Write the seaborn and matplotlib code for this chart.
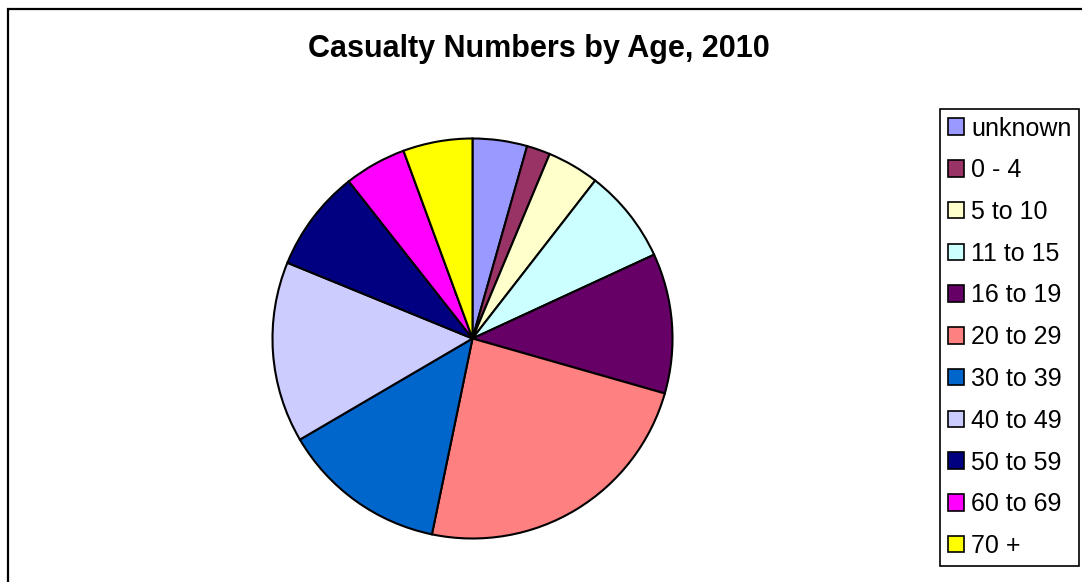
import matplotlib
matplotlib.use("Agg")
import matplotlib.pyplot as plt
import seaborn as sns
from matplotlib.patches import Patch, Rectangle

# share of casualties per age band
age_groups = ["unknown", "0 - 4", "5 to 10", "11 to 15", "16 to 19", "20 to 29",
              "30 to 39", "40 to 49", "50 to 59", "60 to 69", "70 +"]
casualties = [4.4, 1.9, 4.2, 7.6, 11.3, 23.8, 13.3, 14.6, 8.2, 5.0, 5.6]
slice_colors = ["#9999FF", "#993366", "#FFFFCC", "#CCFFFF", "#660066", "#FF8080",
                "#0066CC", "#CCCCFF", "#000080", "#FF00FF", "#FFFF00"]

sns.set_theme(style="white")
plt.rcParams["font.family"] = ["Liberation Sans", "DejaVu Sans"]
plt.rcParams["text.color"] = "black"

W, H = 1082, 582
fig = plt.figure(figsize=(W / 100, H / 100), dpi=100)
fig.patch.set_facecolor("white")

# chart area border (only top/left visible in the crop)
fig.add_artist(Rectangle((8 / W, -20 / H), (W + 40) / W, (H + 20 - 9) / H,
                         transform=fig.transFigure, fill=False,
                         edgecolor="black", linewidth=1.6))

palette = sns.color_palette(slice_colors)
ax = fig.add_axes([272.5 / W, (H - 538.5) / H, 400 / W, 400 / H])
ax.pie(casualties, colors=palette, startangle=90, counterclock=False,
       radius=1.0, wedgeprops=dict(edgecolor="black", linewidth=1.5))
ax.set_xlim(-1, 1)
ax.set_ylim(-1, 1)
ax.set_aspect("equal")
ax.axis("off")

fig.text(539 / W, 1 - 49 / H, "Casualty Numbers by Age, 2010",
         ha="center", va="center", fontsize=22, fontweight="bold",
         color="black")

handles = [Patch(facecolor=c, edgecolor="black", linewidth=1.2) for c in palette]
leg = fig.legend(handles, age_groups, loc="upper left",
                 bbox_to_anchor=(940 / W, 1 - 109 / H), borderaxespad=0,
                 fontsize=18, frameon=True, fancybox=False, framealpha=1,
                 edgecolor="black", handlelength=0.64, handleheight=0.64,
                 handletextpad=0.3, labelspacing=0.71, borderpad=0.3)
leg.get_frame().set_linewidth(1.2)
for t in leg.get_texts():
    t.set_color("black")

fig.savefig("out.png", dpi=100)
